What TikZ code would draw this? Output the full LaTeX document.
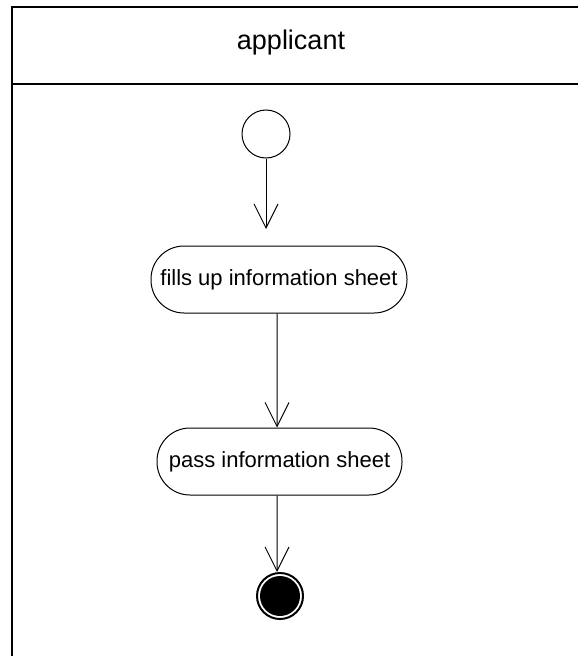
\documentclass[tikz,border=0pt]{standalone}
\usepackage{fontspec}
\setmainfont{Liberation Sans}
\usetikzlibrary{arrows.meta}
\begin{document}
\begin{tikzpicture}[x=1bp,y=-1bp,
  frameline/.style={line width=2bp},
  activity/.style={draw, line width=1bp, rounded corners=33bp, minimum height=67bp,
    inner sep=0pt, font=\fontsize{22bp}{26bp}\selectfont},
  flow/.style={line width=1bp, -{Straight Barb[length=24bp,width=24bp,line width=1bp]}},
  startnode/.style={draw, circle, line width=1bp, minimum size=48bp, inner sep=0pt},
  endring/.style={draw, circle, line width=2bp, minimum size=46bp, inner sep=0pt},
  enddot/.style={fill=black, circle, minimum size=40bp, inner sep=0pt}]
\useasboundingbox (0,0) rectangle (578,656);
% swimlane frame
\coordinate (tl) at (12,7);
\coordinate (tr) at (580,7);
\coordinate (bl) at (12,660);
\coordinate (hl) at (12,84);
\coordinate (hr) at (580,84);
\draw[frameline] (bl) -- (tl) -- (tr);
\draw[frameline] (hl) -- (hr);
\node[font=\fontsize{27bp}{32bp}\selectfont] (lane) at (291,43) {applicant};
% nodes
\node[startnode] (start) at (266,134) {};
\node[activity, minimum width=256bp] (fill) at (279,279.5) {fills up information sheet};
\node[activity, minimum width=245bp] (pass) at (279.5,461.5) {pass information sheet};
\node[endring] (stop) at (280,596) {};
\node[enddot] (stopdot) at (280,596) {};
% flows
\coordinate (t1) at (266,229);
\draw[flow] (start) -- (t1);
\draw[flow] ([xshift=-2bp]fill.south) -- ([xshift=-2.5bp]pass.north);
\draw[flow] ([xshift=-2.5bp]pass.south) -- (stop.north -| 277,0);
\end{tikzpicture}
\end{document}
